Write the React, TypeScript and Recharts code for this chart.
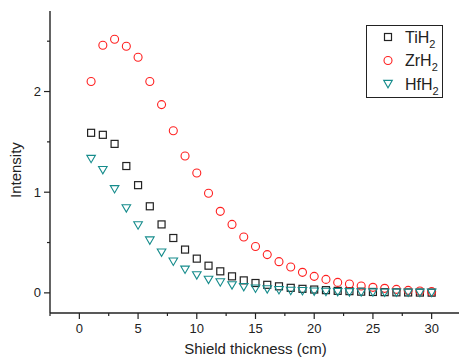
import React from "react";
import { ScatterChart, Scatter, XAxis, YAxis, Legend } from "recharts";

// shield thickness in cm, 1..30
const thickness = [1, 2, 3, 4, 5, 6, 7, 8, 9, 10, 11, 12, 13, 14, 15, 16, 17, 18, 19, 20, 21, 22, 23, 24, 25, 26, 27, 28, 29, 30];

const tiH2 = [1.59, 1.57, 1.48, 1.26, 1.07, 0.86, 0.68, 0.545, 0.43, 0.34, 0.27, 0.214, 0.164, 0.124, 0.098, 0.08, 0.065, 0.05, 0.04, 0.033, 0.027, 0.02, 0.017, 0.012, 0.009, 0.007, 0.005, 0.004, 0.003, 0.002];
const zrH2 = [2.1, 2.46, 2.52, 2.45, 2.34, 2.1, 1.87, 1.61, 1.36, 1.19, 0.99, 0.81, 0.68, 0.555, 0.46, 0.38, 0.31, 0.257, 0.204, 0.164, 0.134, 0.104, 0.088, 0.068, 0.055, 0.045, 0.035, 0.025, 0.018, 0.012];
const hfH2 = [1.33, 1.22, 1.03, 0.84, 0.67, 0.52, 0.4, 0.31, 0.23, 0.174, 0.13, 0.104, 0.075, 0.058, 0.042, 0.035, 0.027, 0.02, 0.017, 0.013, 0.01, 0.008, 0.006, 0.005, 0.004, 0.003, 0.002, 0.002, 0.001, 0.001];

const xTicks = [-2.5, 0, 2.5, 5, 7.5, 10, 12.5, 15, 17.5, 20, 22.5, 25, 27.5, 30, 32.5];
const yTicks = [0, 0.5, 1, 1.5, 2, 2.5];

const FONT = "'Liberation Sans', Arial, sans-serif";
const AXIS = "#222";

const toPoints = (vals: number[]) => thickness.map((x, i) => ({ x, y: vals[i] }));

const Square = ({ cx, cy, color }: any) => (
  <rect x={cx - 3.5} y={cy - 3.5} width={7} height={7} fill="none" stroke={color} strokeWidth={1.2} />
);
const Circle = ({ cx, cy, color }: any) => (
  <circle cx={cx} cy={cy} r={4} fill="none" stroke={color} strokeWidth={1.1} />
);
const Tri = ({ cx, cy, color }: any) => (
  <path d={`M${cx - 4.3},${cy - 3.6}L${cx + 4.3},${cy - 3.6}L${cx},${cy + 3.8}Z`} fill="none" stroke={color} strokeWidth={1.1} />
);

const SERIES = [
  { name: "TiH", data: toPoints(tiH2), color: "#222222", Marker: Square },
  { name: "ZrH", data: toPoints(zrH2), color: "#ff2020", Marker: Circle },
  { name: "HfH", data: toPoints(hfH2), color: "#168c8c", Marker: Tri },
];

const XTick = ({ x, y, payload }: any) => {
  const v = payload.value;
  const major = Number.isInteger(v / 5);
  return (
    <g>
      <line x1={x} x2={x} y1={y} y2={y + (major ? 6 : 3)} stroke={AXIS} strokeWidth={1.2} />
      {major && (
        <text x={x} y={y + 20} textAnchor="middle" fontSize={13} fontFamily={FONT} fill="#222">
          {v}
        </text>
      )}
    </g>
  );
};

const YTick = ({ x, y, payload }: any) => {
  const v = payload.value;
  const major = Number.isInteger(v);
  return (
    <g>
      <line x1={x - (major ? 6 : 3)} x2={x} y1={y} y2={y} stroke={AXIS} strokeWidth={1.2} />
      {major && (
        <text x={x - 9} y={y + 4.5} textAnchor="end" fontSize={13} fontFamily={FONT} fill="#222">
          {v}
        </text>
      )}
    </g>
  );
};

const LegendBox = () => (
  <div style={{ width: 77, height: 73, border: `1px solid ${AXIS}`, background: "#fff", boxSizing: "border-box" }}>
    <svg width={77} height={73} style={{ display: "block" }}>
      {SERIES.map((s, i) => {
        const cy = 11 + i * 23.5;
        const M = s.Marker;
        return (
          <g key={s.name}>
            <M cx={21} cy={cy} color={s.color} />
            <text x={38} y={cy + 5.5} fontSize={16} fontFamily={FONT} fill="#222">
              {s.name}
              <tspan dy={5} fontSize={11}>2</tspan>
            </text>
          </g>
        );
      })}
    </svg>
  </div>
);

export default function App() {
  return (
    <div style={{ width: 459, height: 358, overflow: "hidden", background: "#fff" }}>
      <style>{`body{margin:0}`}</style>
      <ScatterChart width={463} height={358} margin={{ top: 11, right: 2, bottom: 0, left: 0 }}>
        <XAxis
          xAxisId="b"
          type="number"
          dataKey="x"
          domain={[-2.5, 32.5]}
          ticks={xTicks}
          interval={0}
          allowDataOverflow
          height={45}
          tickSize={0}
          tickMargin={0}
          tick={<XTick />}
          axisLine={{ stroke: AXIS, strokeWidth: 1.4 }}
          label={{ value: "Shield thickness (cm)", position: "insideBottom", offset: 4, fontSize: 15, fontFamily: FONT, fill: "#222" }}
        />
        <XAxis
          xAxisId="t"
          orientation="top"
          type="number"
          dataKey="x"
          domain={[-2.5, 32.5]}
          height={0}
          tick={false}
          tickLine={false}
          axisLine={{ stroke: AXIS, strokeWidth: 1.4 }}
        />
        <YAxis
          type="number"
          dataKey="y"
          domain={[-0.2, 2.8]}
          ticks={yTicks}
          interval={0}
          allowDataOverflow
          width={50}
          tickSize={0}
          tickMargin={0}
          tick={<YTick />}
          axisLine={{ stroke: AXIS, strokeWidth: 1.4 }}
          label={{ value: "Intensity", angle: -90, position: "insideLeft", offset: 16, dy: 36, fontSize: 15, fontFamily: FONT, fill: "#222" }}
        />
        <Legend
          layout="vertical"
          align="center"
          verticalAlign="middle"
          wrapperStyle={{ left: 366, top: 25, width: 77, height: 73 }}
          content={() => <LegendBox />}
        />
        {SERIES.map((s) => (
          <Scatter
            key={s.name}
            name={s.name + "2"}
            xAxisId="b"
            data={s.data}
            isAnimationActive={false}
            shape={(p: any) => <s.Marker cx={p.cx} cy={p.cy} color={s.color} />}
          />
        ))}
      </ScatterChart>
    </div>
  );
}
